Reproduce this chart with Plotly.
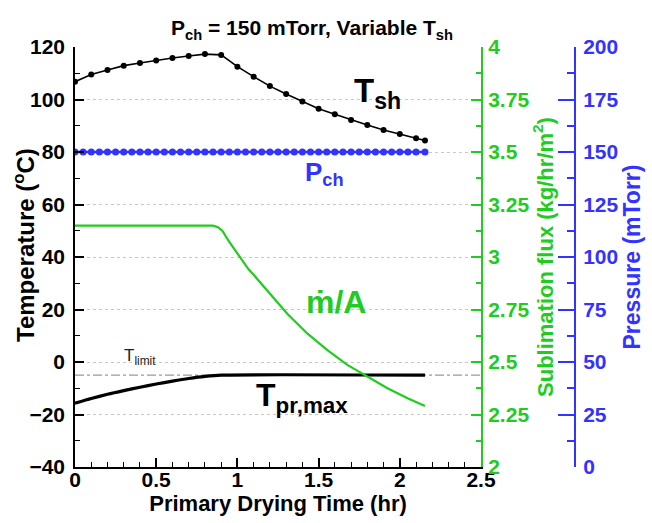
import plotly.graph_objects as go

# Shelf temperature (deg C) sampled every 0.1 hr, last point at end of drying
t_sh_time = [0.0, 0.1, 0.2, 0.3, 0.4, 0.5, 0.6, 0.7, 0.8, 0.9, 1.0, 1.1,
             1.2, 1.3, 1.4, 1.5, 1.6, 1.7, 1.8, 1.9, 2.0, 2.1, 2.155]
t_sh = [106.8, 109.5, 111.2, 112.9, 113.9, 114.9, 115.8, 116.6, 117.3, 117.0,
        112.5, 108.7, 105.1, 102.1, 99.2, 96.5, 94.4, 92.2, 90.3, 88.4, 86.9,
        85.2, 84.4]

# Chamber pressure set point (mTorr)
p_time = [0.0, 0.05, 0.1, 0.15, 0.2, 0.25, 0.3, 0.35, 0.4, 0.45, 0.5, 0.55,
          0.6, 0.65, 0.7, 0.75, 0.8, 0.85, 0.9, 0.95, 1.0, 1.05, 1.1, 1.15,
          1.2, 1.25, 1.3, 1.35, 1.4, 1.45, 1.5, 1.55, 1.6, 1.65, 1.7, 1.75,
          1.8, 1.85, 1.9, 1.95, 2.0, 2.05, 2.1, 2.155]
p_ch = [150] * len(p_time)

# Maximum product temperature (deg C)
t_pr_time = [0.0, 0.1, 0.2, 0.3, 0.4, 0.5, 0.6, 0.7, 0.8, 0.9, 2.155]
t_pr = [-15.7, -13.9, -12.3, -10.9, -9.6, -8.4, -7.3, -6.3, -5.5, -5.0, -5.0]

# Sublimation flux (kg/hr/m^2)
flux_time = [0.0, 0.85, 0.88, 0.907, 0.95, 1.0, 1.07, 1.10, 1.204, 1.307,
             1.43, 1.554, 1.677, 1.80, 1.924, 2.048, 2.155]
flux = [3.149, 3.149, 3.142, 3.125, 3.072, 3.018, 2.94, 2.915, 2.823, 2.730,
        2.636, 2.557, 2.486, 2.43, 2.375, 2.327, 2.29]

# Product temperature limit (deg C)
t_limit = -5
x_range = [0, 2.5]

FONT = "Liberation Sans"
GREEN = "#1fcc1f"
BLUE = "#3333ff"
BLACK = "#000000"

W, H = 652, 523
ML, MR, MT, MB = 75, 0, 47, 56
plot_w = W - ML - MR
plot_h = H - MT - MB
x_end = (481 - ML) / plot_w
blue_pos = (575 - ML) / plot_w

fig = go.Figure()

fig.add_trace(go.Scatter(
    x=x_range, y=[t_limit, t_limit], mode="lines",
    line=dict(color="#9a9a9a", width=1.3, dash="dashdot"),
    showlegend=False, hoverinfo="skip"))

fig.add_trace(go.Scatter(
    x=t_pr_time, y=t_pr, mode="lines",
    line=dict(color=BLACK, width=3.2, shape="spline", smoothing=0.6),
    showlegend=False))

fig.add_trace(go.Scatter(
    x=t_sh_time, y=t_sh, mode="lines+markers",
    line=dict(color=BLACK, width=1.6),
    marker=dict(color=BLACK, size=6),
    showlegend=False))

fig.add_trace(go.Scatter(
    x=flux_time, y=flux, mode="lines", yaxis="y2",
    line=dict(color=GREEN, width=2.2),
    showlegend=False))

fig.add_trace(go.Scatter(
    x=p_time, y=p_ch, mode="lines+markers", yaxis="y3",
    line=dict(color=BLUE, width=2.5),
    marker=dict(color=BLUE, size=7),
    showlegend=False))

tick_font = dict(family=FONT, size=21, weight="bold")

fig.update_layout(
    width=W, height=H,
    margin=dict(l=ML, r=MR, t=MT, b=MB, autoexpand=False),
    paper_bgcolor="white", plot_bgcolor="white",
    title=dict(text="P<sub>ch</sub> = 150 mTorr, Variable T<sub>sh</sub>",
               x=312 / W, xanchor="center", y=1 - 28 / H, yanchor="middle",
               font=dict(family=FONT, size=21, color=BLACK, weight="bold")),
    xaxis=dict(
        domain=[0, x_end], range=x_range, dtick=0.5, tick0=0,
        showline=True, linecolor=BLACK, linewidth=1.5, mirror=False,
        ticks="inside", ticklen=9, tickwidth=1.5, tickcolor=BLACK,
        minor=dict(ticks="inside", ticklen=5, dtick=0.1, tickcolor=BLACK, tickwidth=1.2),
        showgrid=False, zeroline=False, automargin=False,
        tickfont=dict(color=BLACK, **tick_font), ticklabelstandoff=-7,
        title=dict(text="Primary Drying Time (hr)", standoff=0,
                   font=dict(family=FONT, size=22, color=BLACK, weight="bold"))),
    yaxis=dict(
        range=[-40, 120], dtick=20, tick0=-40,
        showline=True, linecolor=BLACK, linewidth=1.5,
        ticks="inside", ticklen=9, tickwidth=1.5, tickcolor=BLACK,
        minor=dict(ticks="inside", ticklen=5, dtick=10, tickcolor=BLACK, tickwidth=1.2,
                   showgrid=False),
        showgrid=True, gridcolor="#c8c8c8", griddash="dot", gridwidth=1,
        zeroline=False, automargin=False,
        tickfont=dict(color=BLACK, **tick_font), ticklabelstandoff=4),
    yaxis2=dict(
        overlaying="y", side="right", anchor="x",
        range=[2, 4], dtick=0.25, tick0=2,
        showline=True, linecolor=GREEN, linewidth=2,
        ticks="inside", ticklen=10, tickwidth=2, tickcolor=GREEN,
        minor=dict(ticks="inside", ticklen=5, dtick=0.125, tickcolor=GREEN, tickwidth=1.5),
        showgrid=False, zeroline=False, automargin=False,
        tickfont=dict(color=GREEN, **tick_font), ticklabelstandoff=1,
        title=dict(text="Sublimation flux (kg/hr/m<sup>2</sup>)", standoff=2,
                   font=dict(family=FONT, size=22, color=GREEN, weight="bold"))),
    yaxis3=dict(
        overlaying="y", side="right", anchor="free", position=blue_pos,
        range=[0, 200], dtick=25, tick0=0,
        showline=True, linecolor=BLUE, linewidth=2,
        ticks="inside", ticklen=16, tickwidth=2, tickcolor=BLUE,
        minor=dict(ticks="inside", ticklen=7, dtick=12.5, tickcolor=BLUE, tickwidth=1.5),
        showgrid=False, zeroline=False, automargin=False,
        tickfont=dict(color=BLUE, **tick_font), ticklabelstandoff=3,
        title=dict(text="Pressure (mTorr)", standoff=4,
                   font=dict(family=FONT, size=23, color=BLUE, weight="bold"))),
)

# Left axis title, placed as rotated text just left of the tick labels
fig.add_annotation(x=(24 - ML) / plot_w, y=(H - MB - 245) / plot_h,
                   xref="paper", yref="paper",
                   xanchor="center", yanchor="middle", textangle=-90,
                   text="Temperature (<sup>o</sup>C)", showarrow=False,
                   font=dict(family=FONT, size=24, color=BLACK, weight="bold"))

labels = [
    (1.86, 102.5, "T<sub>sh</sub>", 33, BLACK, "bold"),
    (1.535, 72, "P<sub>ch</sub>", 26, BLUE, "bold"),
    (1.61, 23, "ṁ/A", 32, GREEN, "bold"),
    (0.40, 2, "T<sub>limit</sub>", 17, "#222222", "normal"),
    (1.40, -13.5, "T<sub>pr,max</sub>", 32, BLACK, "bold"),
]
for lx, ly, txt, size, col, wt in labels:
    fig.add_annotation(x=lx, y=ly, xref="x", yref="y", text=txt, showarrow=False,
                       font=dict(family=FONT, size=size, color=col, weight=wt))

fig.write_html("out.html")
